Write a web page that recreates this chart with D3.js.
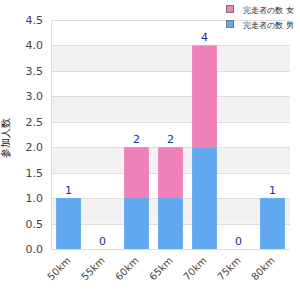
<!DOCTYPE html>
<html>
<head>
<meta charset="utf-8">
<script src="https://cdn.jsdelivr.net/npm/d3@7"></script>
<style>
  body { margin: 0; background: #fff; }
  text { font-family: "DejaVu Sans", sans-serif; }
</style>
</head>
<body>
<script>
// chart data
const categories = ["50km", "55km", "60km", "65km", "70km", "75km", "80km"];
const seriesNames = ["完走者の数 男", "完走者の数 女"];
const maleValues = [1, 0, 1, 1, 2, 0, 1];
const femaleValues = [0, 0, 1, 1, 2, 0, 0];
const yTicks = [0, 0.5, 1, 1.5, 2, 2.5, 3, 3.5, 4, 4.5];
const yTitle = "参加人数";
const colors = ["#60a8f0", "#f080b8"];

const W = 300, H = 300;
const margin = { top: 20, right: 10, bottom: 51, left: 51 };
const width = W - margin.left - margin.right;
const height = H - margin.top - margin.bottom;

const svg = d3.select("body").append("svg")
  .attr("width", W)
  .attr("height", H);

const g = svg.append("g")
  .attr("transform", `translate(${margin.left},${margin.top})`);

const x = d3.scaleBand().domain(categories).range([0, width])
  .paddingInner(0.27).paddingOuter(0.15);
const y = d3.scaleLinear().domain([0, 4.5]).range([height, 0]);

// alternating bands
g.selectAll(".band")
  .data(yTicks.filter((t, i) => i % 2 === 1 && t < 4.5))
  .enter().append("rect")
  .attr("x", 0)
  .attr("width", width)
  .attr("y", d => y(d + 0.5))
  .attr("height", d => y(d) - y(d + 0.5))
  .attr("fill", "#f2f2f2");

// grid lines
g.selectAll(".grid")
  .data(yTicks)
  .enter().append("line")
  .attr("x1", 0).attr("x2", width)
  .attr("y1", d => Math.round(y(d)) + 0.5)
  .attr("y2", d => Math.round(y(d)) + 0.5)
  .attr("stroke", "#dddddd");

g.append("line")
  .attr("x1", 0.5).attr("x2", 0.5)
  .attr("y1", 0).attr("y2", height)
  .attr("stroke", "#dddddd");

// stacked bars
const rows = categories.map((c, i) => ({ cat: c, m: maleValues[i], f: femaleValues[i] }));
const stack = d3.stack().keys(["m", "f"])(rows);

g.selectAll(".layer")
  .data(stack)
  .enter().append("g")
  .attr("fill", (d, i) => colors[i])
  .selectAll("rect")
  .data(d => d)
  .enter().append("rect")
  .attr("x", d => x(d.data.cat))
  .attr("width", x.bandwidth())
  .attr("y", d => y(d[1]))
  .attr("height", d => y(d[0]) - y(d[1]));

// totals
g.selectAll(".total")
  .data(rows)
  .enter().append("text")
  .attr("x", d => x(d.cat) + x.bandwidth() / 2)
  .attr("y", d => y(d.m + d.f) - 4)
  .attr("text-anchor", "middle")
  .attr("font-size", 11)
  .attr("fill", "#2a2a90")
  .text(d => d.m + d.f);

// y axis
const yAxis = g.append("g")
  .call(d3.axisLeft(y).tickValues(yTicks).tickFormat(d3.format(".1f")).tickSize(0).tickPadding(8));
yAxis.select(".domain").remove();
yAxis.selectAll("text").attr("font-size", 11).attr("fill", "#444");

// x axis
const xAxis = g.append("g")
  .attr("transform", `translate(0,${height})`)
  .call(d3.axisBottom(x).tickSize(0).tickPadding(0));
xAxis.select(".domain").remove();
xAxis.selectAll("text")
  .attr("font-size", 10)
  .attr("fill", "#444")
  .attr("text-anchor", "end")
  .attr("dy", 0)
  .attr("transform", "translate(3,12) rotate(-45)");

// y title
svg.append("text")
  .attr("transform", `translate(5,${margin.top + height / 2 + 3}) rotate(-90)`)
  .attr("text-anchor", "middle")
  .attr("dy", "0.35em")
  .attr("font-size", 10)
  .attr("fill", "#222")
  .text(yTitle);

// legend (female first)
const legend = svg.append("g").attr("transform", "translate(226,5)");
[1, 0].forEach((si, i) => {
  const item = legend.append("g").attr("transform", `translate(0,${i * 15})`);
  item.append("rect")
    .attr("x", 0.5).attr("y", 0.5)
    .attr("width", 7).attr("height", 7)
    .attr("fill", colors[si])
    .attr("stroke", "#777");
  item.append("text")
    .attr("x", 17).attr("y", 8)
    .attr("font-size", 8)
    .attr("fill", "#222")
    .text(seriesNames[si]);
});
</script>
</body>
</html>
